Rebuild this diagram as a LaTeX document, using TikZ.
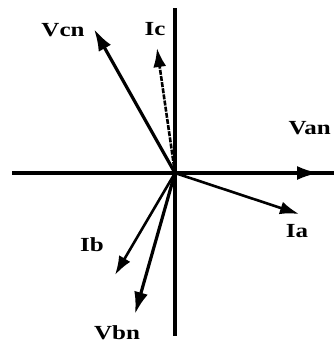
\documentclass[tikz,border=0pt]{standalone}
\usepackage{fontspec}
\setmainfont{Liberation Serif}
\usetikzlibrary{arrows.meta}
\begin{document}
\begin{tikzpicture}[x=1pt,y=-1pt,
  axis/.style={line width=3.2pt},
  vec/.style={line width=3.2pt,-{Latex[length=22pt,width=14pt]}},
  cur/.style={line width=2.6pt,-{Latex[length=19pt,width=13pt]}},
  lbl/.style={font=\fontsize{20}{20}\selectfont\bfseries,inner sep=0pt,xscale=1.25}]
\useasboundingbox (0,0) rectangle (333,346);
\coordinate (O) at (175,173);
\coordinate (top) at (175,8);
\coordinate (bot) at (175,336);
\coordinate (left) at (12,173);
\coordinate (right) at (340,173);
\draw[axis] (top) -- (bot);
\draw[axis] (left) -- (right);
\coordinate (van) at (319,173);
\coordinate (vcn) at (94,29);
\coordinate (vbn) at (135,314);
\coordinate (ia) at (299,214);
\coordinate (ib) at (115,275);
\coordinate (ic) at (157,48);
\draw[vec] (O) -- (van);
\draw[vec] (O) -- (vcn);
\draw[vec] (O) -- (vbn);
\draw[cur] (O) -- (ia);
\draw[cur] (O) -- (ib);
\draw[cur,dash pattern=on 5pt off 1.2pt] (O) -- (ic);
\node[lbl] (Lvcn) at (63,30) {Vcn};
\node[lbl] (Lic) at (155,29) {Ic};
\node[lbl,anchor=east] (Lvan) at (331,128) {Van};
\node[lbl] (Lia) at (297,231) {Ia};
\node[lbl] (Lib) at (92,245) {Ib};
\node[lbl] (Lvbn) at (117,333) {Vbn};
\end{tikzpicture}
\end{document}
